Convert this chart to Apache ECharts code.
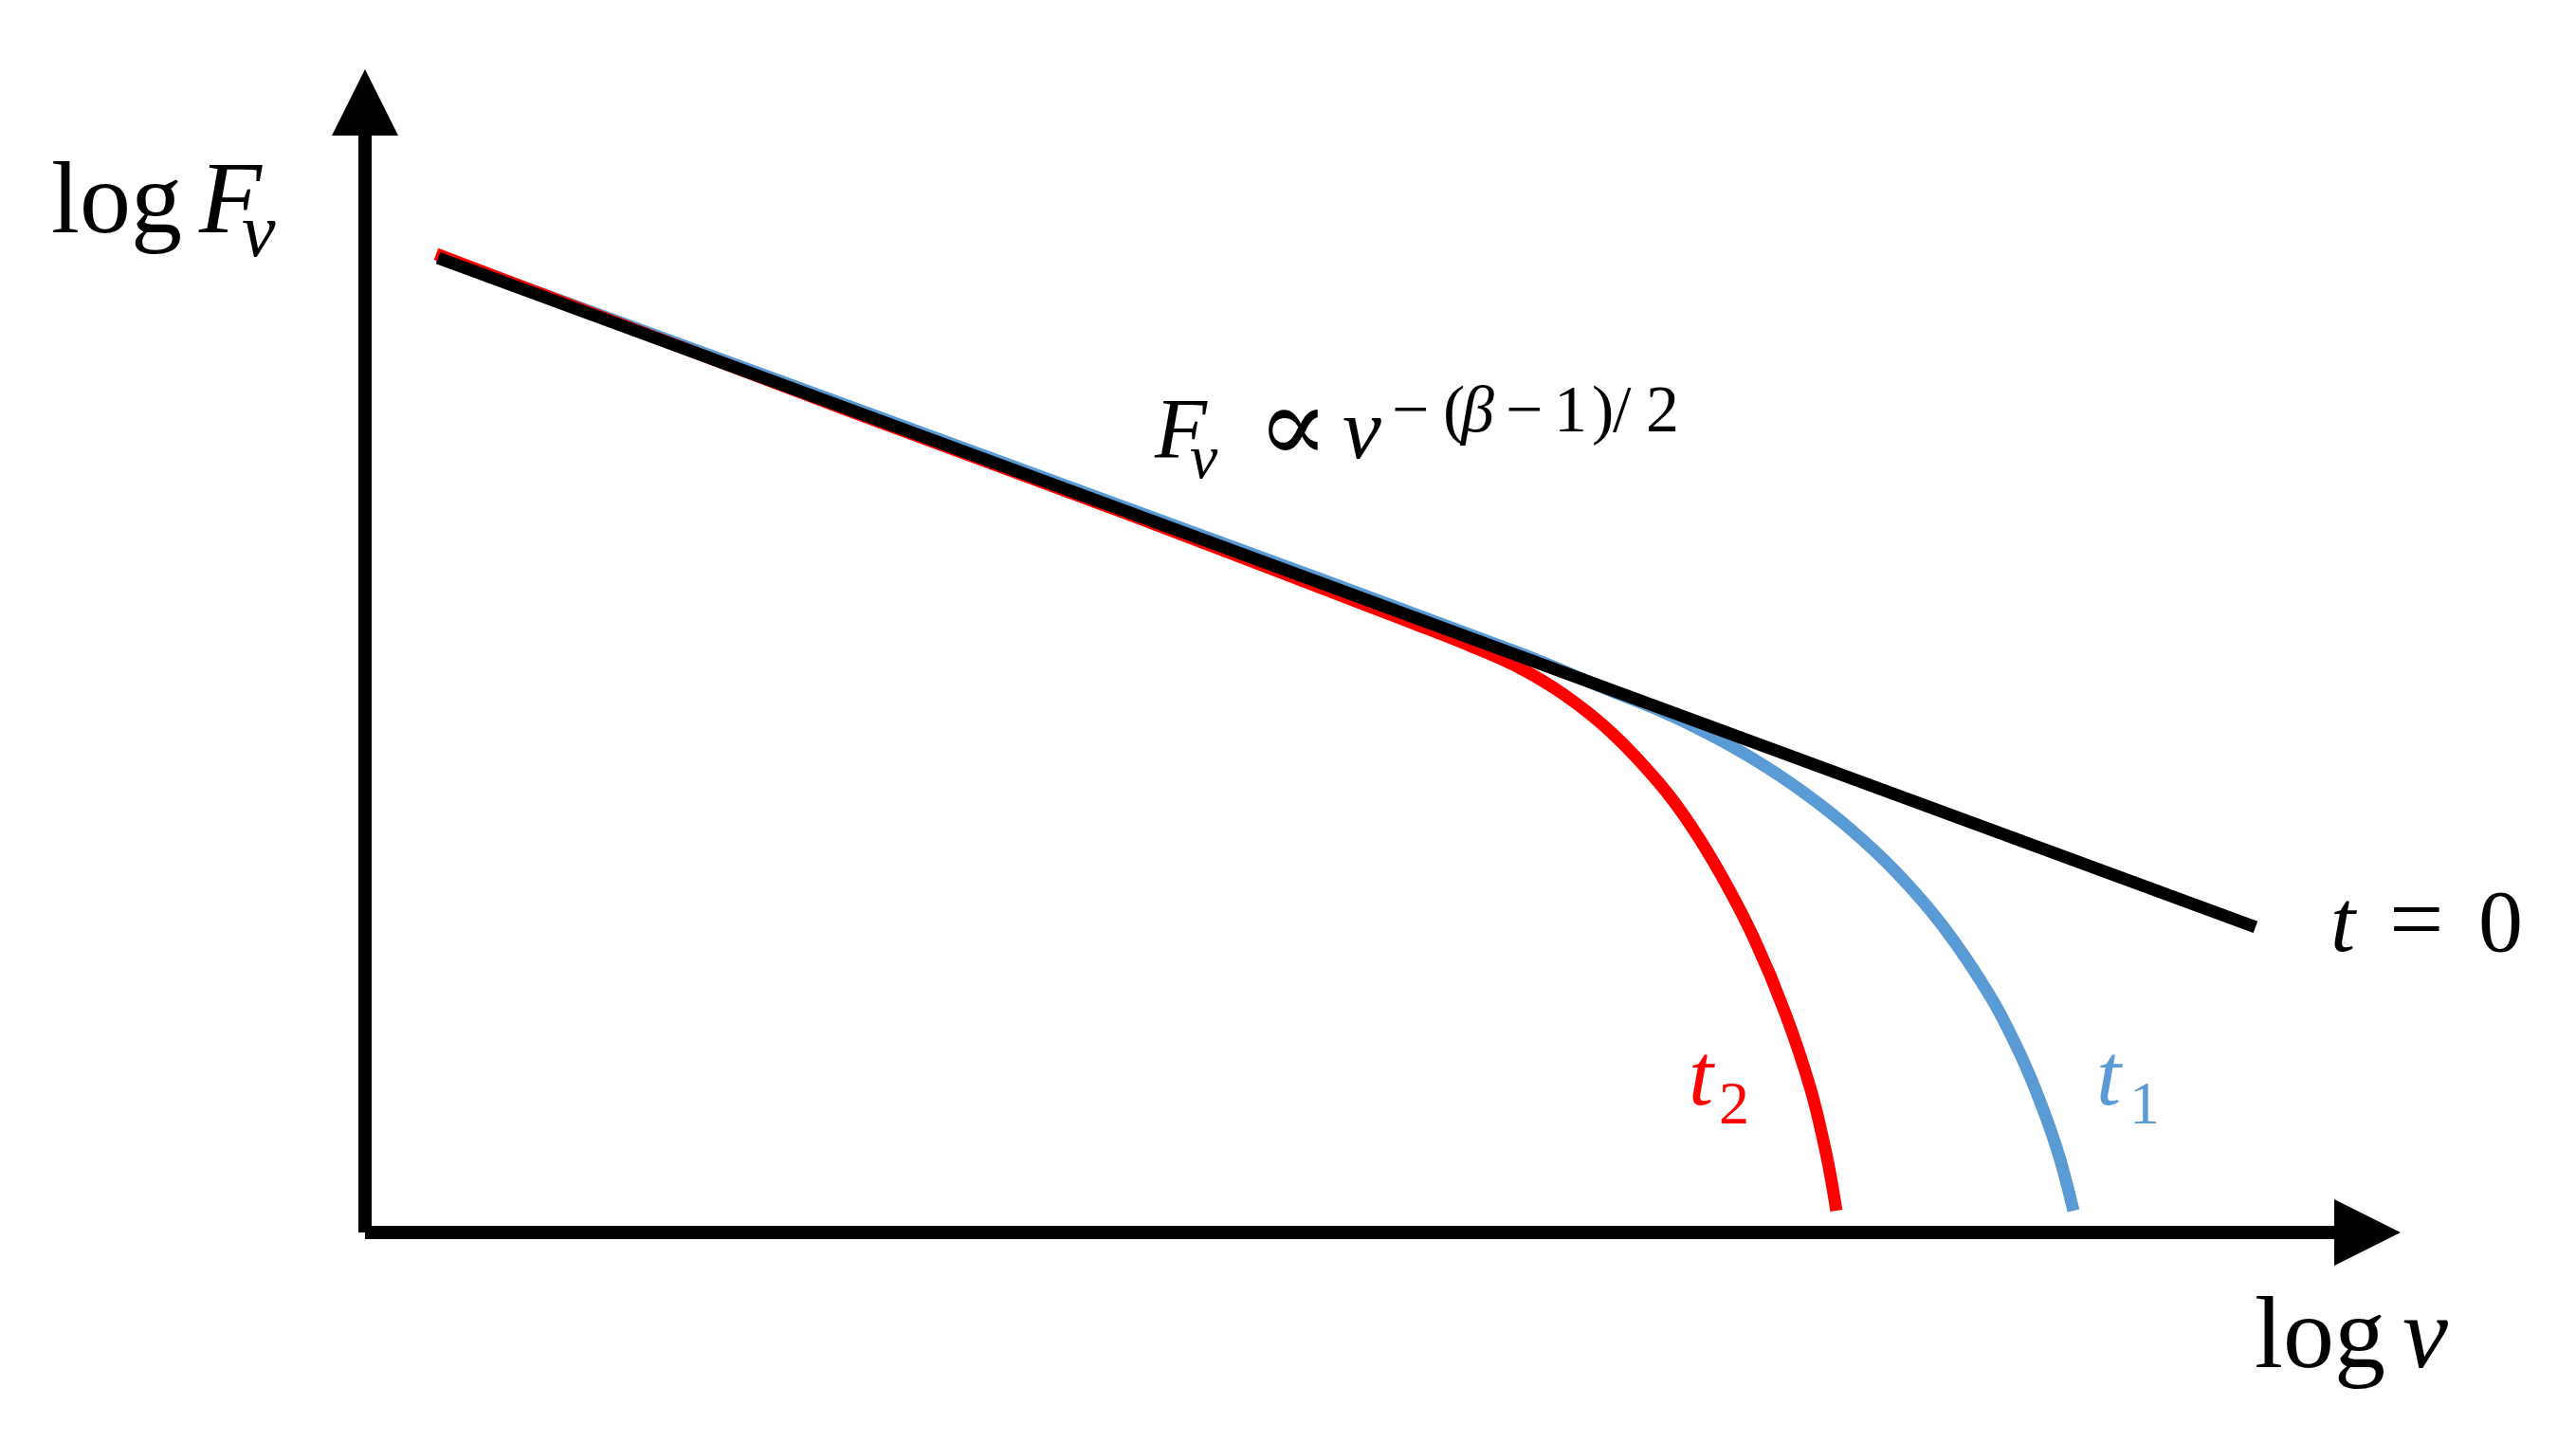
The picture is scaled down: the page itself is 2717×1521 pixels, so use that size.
<!DOCTYPE html>
<html>
<head>
<meta charset="utf-8">
<script src="https://cdn.jsdelivr.net/npm/echarts@6/dist/echarts.min.js"></script>
<style>
html,body{margin:0;padding:0;background:#fff;}
#chart{width:2717px;height:1521px;}
</style>
</head>
<body>
<div id="chart"></div>
<script>
// Axis ranges (arbitrary log units; no tick labels shown)
const xRange = [0, 10];
const yRange = [0, 6];

// t = 0 : straight power law
const lineT0 = [[0.365, 5.174], [9.441, 1.621]];

// t1 (blue) curve
const lineT1 = [
  [0.365, 5.185], [3.859, 3.825], [5.753, 3.081], [6.226, 2.874], [6.463, 2.773],
  [6.700, 2.653], [6.937, 2.512], [7.173, 2.346], [7.410, 2.149], [7.647, 1.913],
  [7.884, 1.621], [8.120, 1.248], [8.262, 0.956], [8.371, 0.680], [8.461, 0.403],
  [8.532, 0.116]
];

// t2 (red) curve
const lineT2 = [
  [0.355, 5.195], [2.438, 4.354], [3.859, 3.795], [5.043, 3.312], [5.279, 3.216],
  [5.516, 3.116], [5.753, 3.005], [5.990, 2.854], [6.226, 2.653], [6.463, 2.386],
  [6.619, 2.164], [6.780, 1.883], [6.937, 1.560], [7.093, 1.163], [7.221, 0.755],
  [7.301, 0.398], [7.348, 0.116]
];

const SERIF = '"Liberation Serif", "DejaVu Serif", serif';
function T(text, x, baseline, size, italic, color) {
  return {
    type: 'text',
    x: x,
    y: baseline - 0.305 * size,
    silent: true,
    z: 100,
    style: {
      text: text,
      font: (italic ? 'italic ' : '') + size + 'px ' + SERIF,
      fill: color || '#000',
      align: 'left',
      verticalAlign: 'middle'
    }
  };
}

const chart = echarts.init(document.getElementById('chart'), null, {renderer: 'canvas'});
const axisCommon = {
  type: 'value',
  axisLine: {
    show: true,
    onZero: false,
    symbol: ['none', 'triangle'],
    symbolSize: [70, 70],
    symbolOffset: [0, 0],
    lineStyle: {color: '#000', width: 14, cap: 'butt'}
  },
  axisTick: {show: false},
  axisLabel: {show: false},
  splitLine: {show: false}
};

chart.setOption({
  animation: false,
  backgroundColor: '#fff',
  grid: {left: 385, right: 220, top: 108, bottom: 221, containLabel: false},
  xAxis: Object.assign({}, axisCommon, {min: xRange[0], max: xRange[1]}),
  yAxis: Object.assign({}, axisCommon, {min: yRange[0], max: yRange[1]}),
  series: [
    {
      type: 'line', data: lineT1, symbol: 'none', smooth: 0.33,
      lineStyle: {color: '#5B9BD5', width: 13, cap: 'butt'}, z: 2, silent: true
    },
    {
      type: 'line', data: lineT2, symbol: 'none', smooth: 0.33,
      lineStyle: {color: '#FF0000', width: 13, cap: 'butt'}, z: 3, silent: true
    },
    {
      type: 'line', data: lineT0, symbol: 'none',
      lineStyle: {color: '#000000', width: 13, cap: 'butt'}, z: 4, silent: true
    }
  ],
  graphic: [
    // y axis label: log F_ν
    T('log', 54, 250, 108, false),
    T('F', 210, 250, 108, true),
    T('ν', 255, 273, 80, true),
    // x axis label: log ν
    T('log', 2378, 1447, 108, false),
    T('ν', 2534, 1447, 108, true),
    // formula F_ν ∝ ν^{-(β-1)/2}
    T('F', 1218, 487, 90, true),
    T('ν', 1255, 507, 66, true),
    T('∝', 1326, 492, 112, false),
    T('ν', 1416, 487, 92, true),
    T('−', 1468, 458, 70, false),
    T('(', 1522, 458, 70, false),
    T('β', 1541, 458, 70, true),
    T('−', 1588, 458, 70, false),
    T('1', 1639, 458, 70, false),
    T(')', 1679, 458, 70, false),
    T('/', 1701, 458, 70, false),
    T('2', 1736, 458, 70, false),
    // t = 0
    T('t', 2458, 1007, 94, true),
    T('=', 2520, 1007, 102, false),
    T('0', 2614, 1007, 94, false),
    // t2 (red)
    T('t', 1781, 1169, 94, true, '#FF0000'),
    T('2', 1813, 1188, 64, false, '#FF0000'),
    // t1 (blue)
    T('t', 2211, 1169, 94, true, '#5B9BD5'),
    T('1', 2246, 1188, 64, false, '#5B9BD5')
  ]
});
</script>
</body>
</html>
